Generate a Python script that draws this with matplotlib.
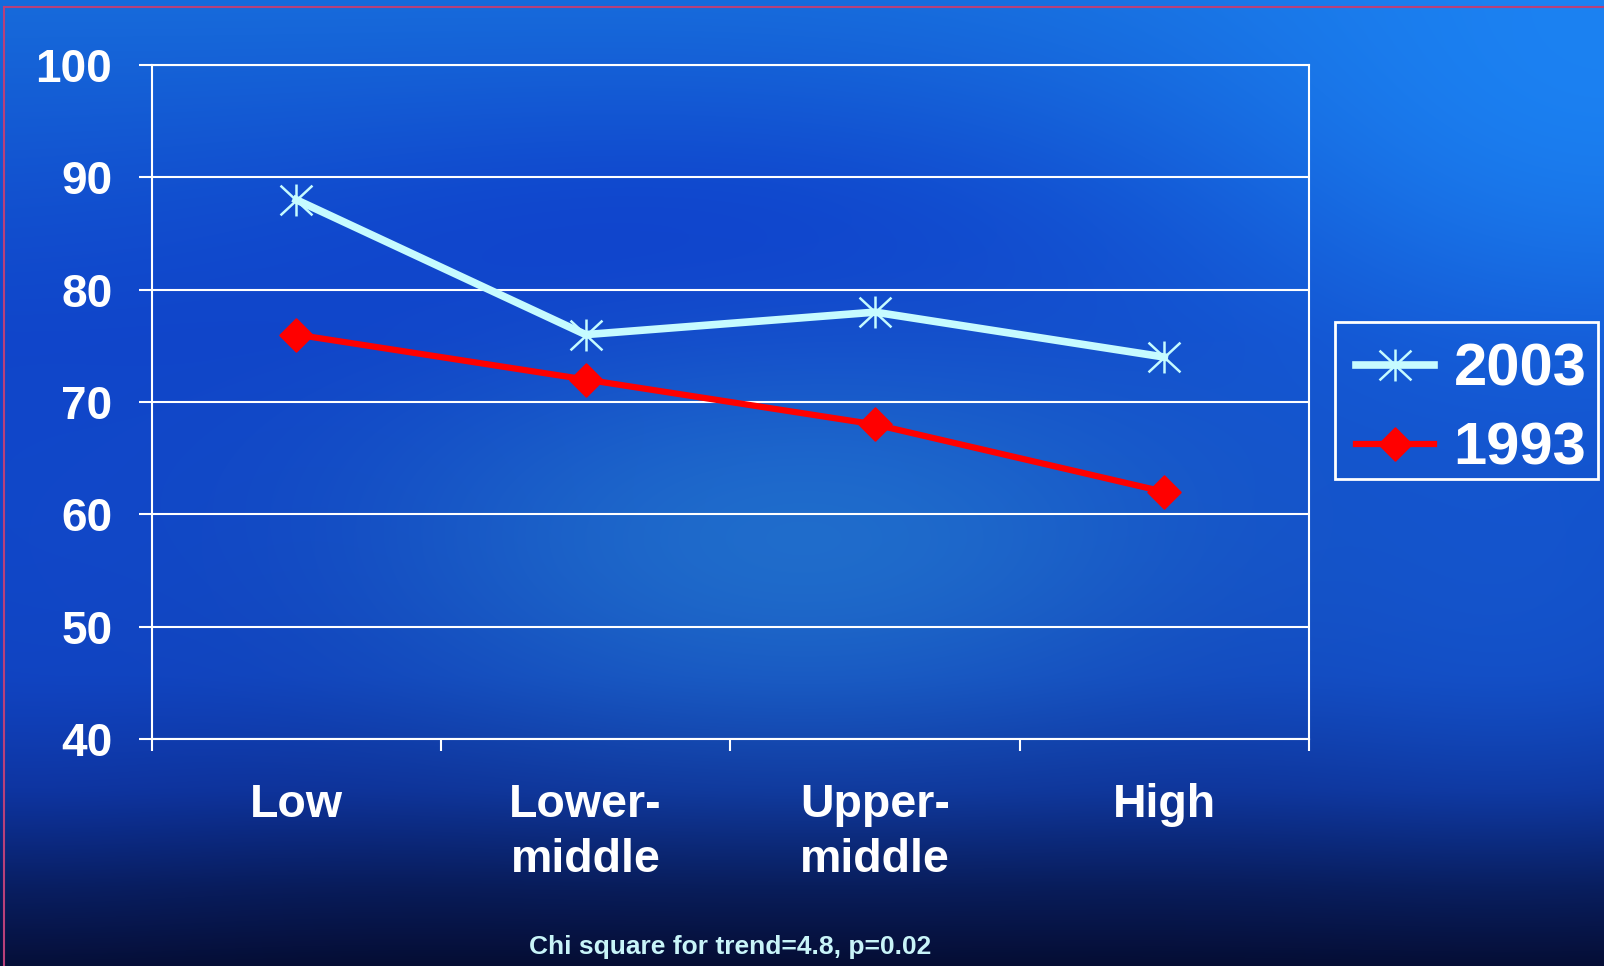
import numpy as np
import matplotlib
matplotlib.use("Agg")
import matplotlib.pyplot as plt
from matplotlib.path import Path
from matplotlib.lines import Line2D
from matplotlib.patches import Rectangle

# Income group categories and the share (%) for each survey year
categories = ["Low", "Lower-\nmiddle", "Upper-\nmiddle", "High"]
values_2003 = [88, 76, 78, 74]
values_1993 = [76, 72, 68, 62]
y_ticks = [40, 50, 60, 70, 80, 90, 100]
footnote = "Chi square for trend=4.8, p=0.02"

W, H = 1604, 966
plt.rcParams['font.family'] = ['Liberation Sans', 'DejaVu Sans']
plt.rcParams['font.weight'] = 'bold'

fig = plt.figure(figsize=(W / 100, H / 100), dpi=100)

# slide background: blue gradient, dark navy at the bottom
h, w = H // 4, W // 4
u, v = np.meshgrid(np.linspace(0, 1, w), np.linspace(0, 1, h))
stops = [0.0, 0.35, 0.7, 0.82, 0.92, 1.0]
base = [
    (0.09, 0.42, 0.86),
    (0.06, 0.26, 0.78),
    (0.06, 0.24, 0.72),
    (0.05, 0.18, 0.58),
    (0.03, 0.10, 0.34),
    (0.02, 0.05, 0.20),
]
bg = np.dstack([np.interp(v, stops, [c[i] for c in base]) for i in range(3)])


def blend(img, cx, cy, sx, sy, color, amount):
    wgt = amount * np.exp(-((u - cx) ** 2 / (2 * sx ** 2) + (v - cy) ** 2 / (2 * sy ** 2)))
    return img * (1 - wgt[..., None]) + np.array(color) * wgt[..., None]


bg = blend(bg, 1.0, 0.05, 0.2, 0.25, (0.11, 0.52, 0.96), 0.9)
bg = blend(bg, 0.42, 0.26, 0.2, 0.1, (0.05, 0.22, 0.80), 0.6)
bg = blend(bg, 0.5, 0.56, 0.2, 0.15, (0.15, 0.50, 0.82), 0.7)
bg = blend(bg, 0.0, 0.55, 0.12, 0.2, (0.07, 0.30, 0.82), 0.5)
bg = blend(bg, 0.95, 0.62, 0.12, 0.15, (0.09, 0.38, 0.84), 0.5)
bg = np.clip(bg, 0, 1)

bg_ax = fig.add_axes([0, 0, 1, 1], zorder=-1)
bg_ax.imshow(bg, aspect='auto', interpolation='bilinear', extent=[0, 1, 0, 1])
bg_ax.set_xlim(0, 1)
bg_ax.set_ylim(0, 1)
bg_ax.axis('off')

# thin magenta slide border along the top and left edges
border = '#b8407a'
fig.add_artist(Line2D([4 / W, 1], [1 - 7 / H, 1 - 7 / H], color=border, lw=1.5))
fig.add_artist(Line2D([4 / W, 4 / W], [0, 1 - 7 / H], color=border, lw=1.5))

ax = fig.add_axes([151.7 / W, 1 - 739 / H, (1309 - 151.7) / W, (739 - 65) / H])
ax.set_facecolor('none')

# asterisk marker: vertical stroke plus an X
star = Path(
    [(0, -1), (0, 1), (-1, -0.93), (1, 0.93), (-1, 0.93), (1, -0.93)],
    [Path.MOVETO, Path.LINETO] * 3,
)

x = np.arange(len(categories))
ax.plot(x, values_2003, color='#c6fbff', lw=5.5, marker=star, markersize=23,
        markerfacecolor='none', markeredgecolor='#c6fbff', markeredgewidth=1.8,
        label='2003', zorder=3)
ax.plot(x, values_1993, color='#ff0000', lw=4.5, marker=(4, 0, 0), markersize=24,
        markerfacecolor='#ff0000', markeredgecolor='#ff0000',
        label='1993', zorder=3)

ax.set_xlim(-0.5, len(categories) - 0.5)
ax.set_ylim(40, 100)
ax.set_yticks(y_ticks)
ax.set_yticklabels([str(t) for t in y_ticks], fontsize=33, color='white', fontweight='bold')
ax.tick_params(axis='y', length=9.4, width=1.5, color='white', pad=19, direction='out')

ax.set_xticks(x)
ax.set_xticklabels(categories, fontsize=33.5, color='white', fontweight='bold',
                   linespacing=1.32)
ax.tick_params(axis='x', which='major', length=0, pad=32)
ax.set_xticks(np.arange(-0.5, len(categories)), minor=True)
ax.tick_params(axis='x', which='minor', length=8.6, width=1.5, color='white', direction='out')

ax.grid(axis='y', color='white', lw=1.5)
ax.set_axisbelow(True)
for side in ['left', 'right', 'top', 'bottom']:
    ax.spines[side].set_color('white')
    ax.spines[side].set_linewidth(1.5)

# legend entries without a frame; the box is drawn on its own
leg = ax.legend(loc='center', bbox_to_anchor=(1471.5 / W, 1 - 409.5 / H),
                bbox_transform=fig.transFigure, fontsize=43, frameon=False,
                handlelength=1.3, handletextpad=0.33,
                borderpad=0.2, labelspacing=0.4, borderaxespad=0)
for t in leg.get_texts():
    t.set_color('white')
    t.set_fontweight('bold')

fig.add_artist(Rectangle((1335 / W, 1 - 479 / H), (1598 - 1335) / W, (479 - 322) / H,
                         transform=fig.transFigure, facecolor='none',
                         edgecolor='white', lw=2))

fig.text(730 / W, 1 - 947 / H, footnote, ha='center', va='center',
         fontsize=19, color='#c8f4f8', fontweight='bold')

fig.savefig('out.png', dpi=100)
